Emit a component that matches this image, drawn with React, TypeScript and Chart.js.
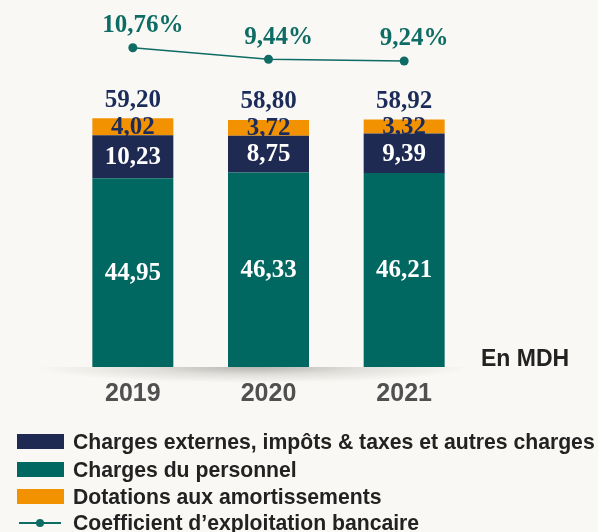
import React, { useEffect, useRef } from "react";
import { Chart, registerables } from "chart.js";

Chart.register(...registerables);

const years = ["2019", "2020", "2021"];
const chargesPersonnel = [44.95, 46.33, 46.21];
const chargesExternes = [10.23, 8.75, 9.39];
const dotations = [4.02, 3.72, 3.32];
const totals = [59.2, 58.8, 58.92];
const coefficient = [10.76, 9.44, 9.24];

const seriesNames = [
  "Charges externes, impôts & taxes et autres charges",
  "Charges du personnel",
  "Dotations aux amortissements",
  "Coefficient d’exploitation bancaire",
];
const unitLabel = "En MDH";

const TEAL = "#006861";
const NAVY = "#1f2a52";
const ORANGE = "#f39200";
const LINE = "#0e6c64";
const BG = "#f9f8f4";
const LABEL_NAVY = "#1b2c5a";

const fmt = (v: number) => v.toFixed(2).replace(".", ",");

const labelsPlugin = {
  id: "customLabels",
  beforeDatasetsDraw(chart: any) {
    const { ctx, chartArea } = chart;
    const base = chart.scales.y.getPixelForValue(0);
    const left = chartArea.left - 30;
    const right = chartArea.right;
    const cx = (left + right) / 2;
    const rx = (right - left) / 2;
    const h = 16;
    ctx.save();
    ctx.beginPath();
    ctx.rect(left, base, right - left, h);
    ctx.clip();
    ctx.translate(cx, base);
    ctx.scale(rx / h, 1);
    const g = ctx.createRadialGradient(0, 0, 0, 0, 0, h);
    g.addColorStop(0, "rgba(60,55,50,0.35)");
    g.addColorStop(0.5, "rgba(60,55,50,0.12)");
    g.addColorStop(1, "rgba(60,55,50,0)");
    ctx.fillStyle = g;
    ctx.fillRect(-h, 0, 2 * h, h);
    ctx.restore();
  },
  afterDatasetsDraw(chart: any) {
    const { ctx, chartArea } = chart;
    ctx.save();
    ctx.textAlign = "center";
    ctx.textBaseline = "middle";
    const serif = 'bold 25px "Liberation Serif", serif';
    ctx.font = serif;
    const colors = ["#ffffff", "#ffffff", LABEL_NAVY];
    [0, 1, 2].forEach((di) => {
      const meta = chart.getDatasetMeta(di);
      const data = chart.data.datasets[di].data as number[];
      meta.data.forEach((el: any, i: number) => {
        ctx.fillStyle = colors[di];
        ctx.fillText(fmt(data[i]), el.x, (el.y + el.base) / 2 + 1);
      });
    });
    // totals
    const topMeta = chart.getDatasetMeta(2);
    topMeta.data.forEach((el: any, i: number) => {
      ctx.fillStyle = LABEL_NAVY;
      ctx.fillText(fmt(totals[i]), el.x, el.y - 18);
    });
    // percentages
    const lineMeta = chart.getDatasetMeta(3);
    lineMeta.data.forEach((el: any, i: number) => {
      ctx.fillStyle = LINE;
      ctx.fillText(fmt(coefficient[i]) + "%", el.x + 10, el.y - 22);
    });
    // unit label
    ctx.font = 'bold 23px "Liberation Sans", Arial, sans-serif';
    ctx.fillStyle = "#222222";
    ctx.textAlign = "left";
    ctx.fillText(unitLabel, chartArea.right + 9, chart.scales.y.getPixelForValue(0) - 7);
    ctx.restore();
  },
};

export default function App() {
  const ref = useRef<HTMLCanvasElement | null>(null);

  useEffect(() => {
    if (!ref.current) return;
    const chart = new Chart(ref.current, {
      type: "bar",
      data: {
        labels: years,
        datasets: [
          {
            type: "bar",
            label: seriesNames[1],
            data: chargesPersonnel,
            backgroundColor: TEAL,
            order: 1,
          },
          {
            type: "bar",
            label: seriesNames[0],
            data: chargesExternes,
            backgroundColor: NAVY,
            order: 1,
          },
          {
            type: "bar",
            label: seriesNames[2],
            data: dotations,
            backgroundColor: ORANGE,
            order: 1,
          },
          {
            type: "line",
            label: seriesNames[3],
            data: coefficient,
            yAxisID: "y1",
            borderColor: LINE,
            backgroundColor: LINE,
            borderWidth: 1.5,
            pointRadius: 4.5,
            pointBackgroundColor: LINE,
            pointBorderWidth: 0,
            order: 0,
          } as any,
        ],
      },
      options: {
        responsive: false,
        maintainAspectRatio: false,
        animation: false,
        layout: { padding: { left: 65, right: 126, top: 10, bottom: 111 } },
        datasets: {
          bar: { barPercentage: 0.597, categoryPercentage: 1 },
        } as any,
        plugins: {
          legend: { display: false },
          tooltip: { enabled: false },
        },
        scales: {
          x: {
            stacked: true,
            grid: { display: false, drawTicks: false },
            border: { display: false },
            ticks: {
              padding: 12,
              color: "#505050",
              font: { family: '"Liberation Sans", Arial, sans-serif', size: 25, weight: "bold" },
            },
          },
          y: {
            stacked: true,
            display: false,
            min: 0,
            max: 85,
          },
          y1: {
            display: false,
            min: -25.73,
            max: 15.07,
          },
        },
      },
      plugins: [labelsPlugin],
    });
    return () => chart.destroy();
  }, []);

  const legendFont: React.CSSProperties = {
    position: "absolute",
    left: 73,
    height: 26,
    lineHeight: "26px",
    fontFamily: '"Liberation Sans", Arial, sans-serif',
    fontWeight: "bold",
    fontSize: 21.2,
    color: "#222222",
    whiteSpace: "nowrap",
  };
  const rows = [
    { name: seriesNames[0], color: NAVY, cy: 441.5 },
    { name: seriesNames[1], color: TEAL, cy: 469.5 },
    { name: seriesNames[2], color: ORANGE, cy: 496.5 },
  ];

  return (
    <div
      style={{
        position: "absolute",
        left: 0,
        top: 0,
        width: 598,
        height: 532,
        background: BG,
        overflow: "hidden",
      }}
    >
      <canvas ref={ref} width={598} height={532} style={{ position: "absolute", left: 0, top: 0 }} />
      {rows.map((r) => (
        <React.Fragment key={r.name}>
          <div
            style={{
              position: "absolute",
              left: 17,
              top: r.cy - 7.5,
              width: 47,
              height: 15,
              background: r.color,
            }}
          />
          <div style={{ ...legendFont, top: r.cy - 13 }}>{r.name}</div>
        </React.Fragment>
      ))}
      <svg
        width={44}
        height={12}
        style={{ position: "absolute", left: 19, top: 516.5 }}
      >
        <line x1={0} y1={6} x2={42} y2={6} stroke={LINE} strokeWidth={2} />
        <circle cx={21} cy={6} r={4} fill={LINE} />
      </svg>
      <div style={{ ...legendFont, top: 522.5 - 13 }}>{seriesNames[3]}</div>
    </div>
  );
}
